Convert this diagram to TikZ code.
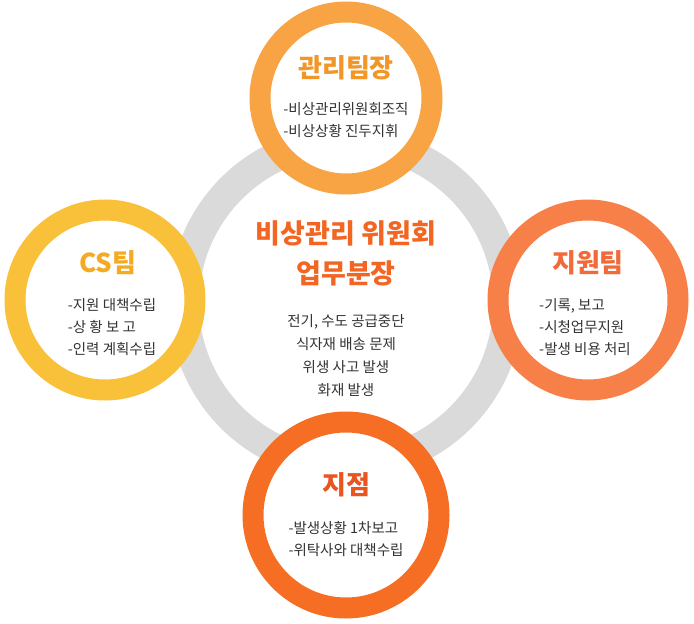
\documentclass[tikz,border=0pt]{standalone}
\usepackage{fontspec}
\setmainfont{Noto Sans CJK KR}
\begin{document}
\begin{tikzpicture}[x=1pt,y=-1pt,
  ringc/.style={line width=21pt,fill=white},
  ttl/.style={font=\fontsize{26}{30}\selectfont\bfseries},
  body/.style={font=\fontsize{14.5}{22}\selectfont,align=left,text=black!80},
  cbody/.style={font=\fontsize{14.5}{23}\selectfont,align=center,text=black!80}]
\useasboundingbox (0,0) rectangle (694,624);
\definecolor{gr}{HTML}{DADADA}
\draw[gr,line width=30pt] (346,303) circle (162);
\draw[ringc,draw={rgb,255:red,248;green,163;blue,68}] (346,98) circle (86);
\draw[ringc,draw={rgb,255:red,249;green,192;blue,58}] (105,300) circle (90);
\draw[ringc,draw={rgb,255:red,247;green,128;blue,72}] (588,300) circle (90);
\draw[ringc,draw={rgb,255:red,245;green,110;blue,36}] (346,515) circle (93);
\node[ttl,text={rgb,255:red,243;green,150;blue,40}] (t1) at (346,68) {관리팀장};
\node[body] (b1) at (346,120) {-비상관리위원회조직\\-비상상황 진두지휘};
\node[ttl,text={rgb,255:red,245;green,170;blue,35}] (t2) at (108,263) {CS팀};
\node[body] (b2) at (112,327) {-지원 대책수립\\-상 황 보 고\\-인력 계획수립};
\node[ttl,text={rgb,255:red,242;green,105;blue,58}] (t3) at (588,263) {지원팀};
\node[body] (b3) at (585,327) {-기록, 보고\\-시청업무지원\\-발생 비용 처리};
\node[ttl,text={rgb,255:red,232;green,85;blue,30}] (t4) at (346,485) {지점};
\node[body] (b4) at (346,539) {-발생상황 1차보고\\-위탁사와 대책수립};
\node[ttl,text={rgb,255:red,242;green,101;blue,34},align=center,font=\fontsize{27}{40}\selectfont\bfseries] (tc) at (346,253) {비상관리 위원회\\업무분장};
\node[cbody] (bc) at (346,356) {전기, 수도 공급중단\\식자재 배송 문제\\위생 사고 발생\\화재 발생};
\end{tikzpicture}
\end{document}
